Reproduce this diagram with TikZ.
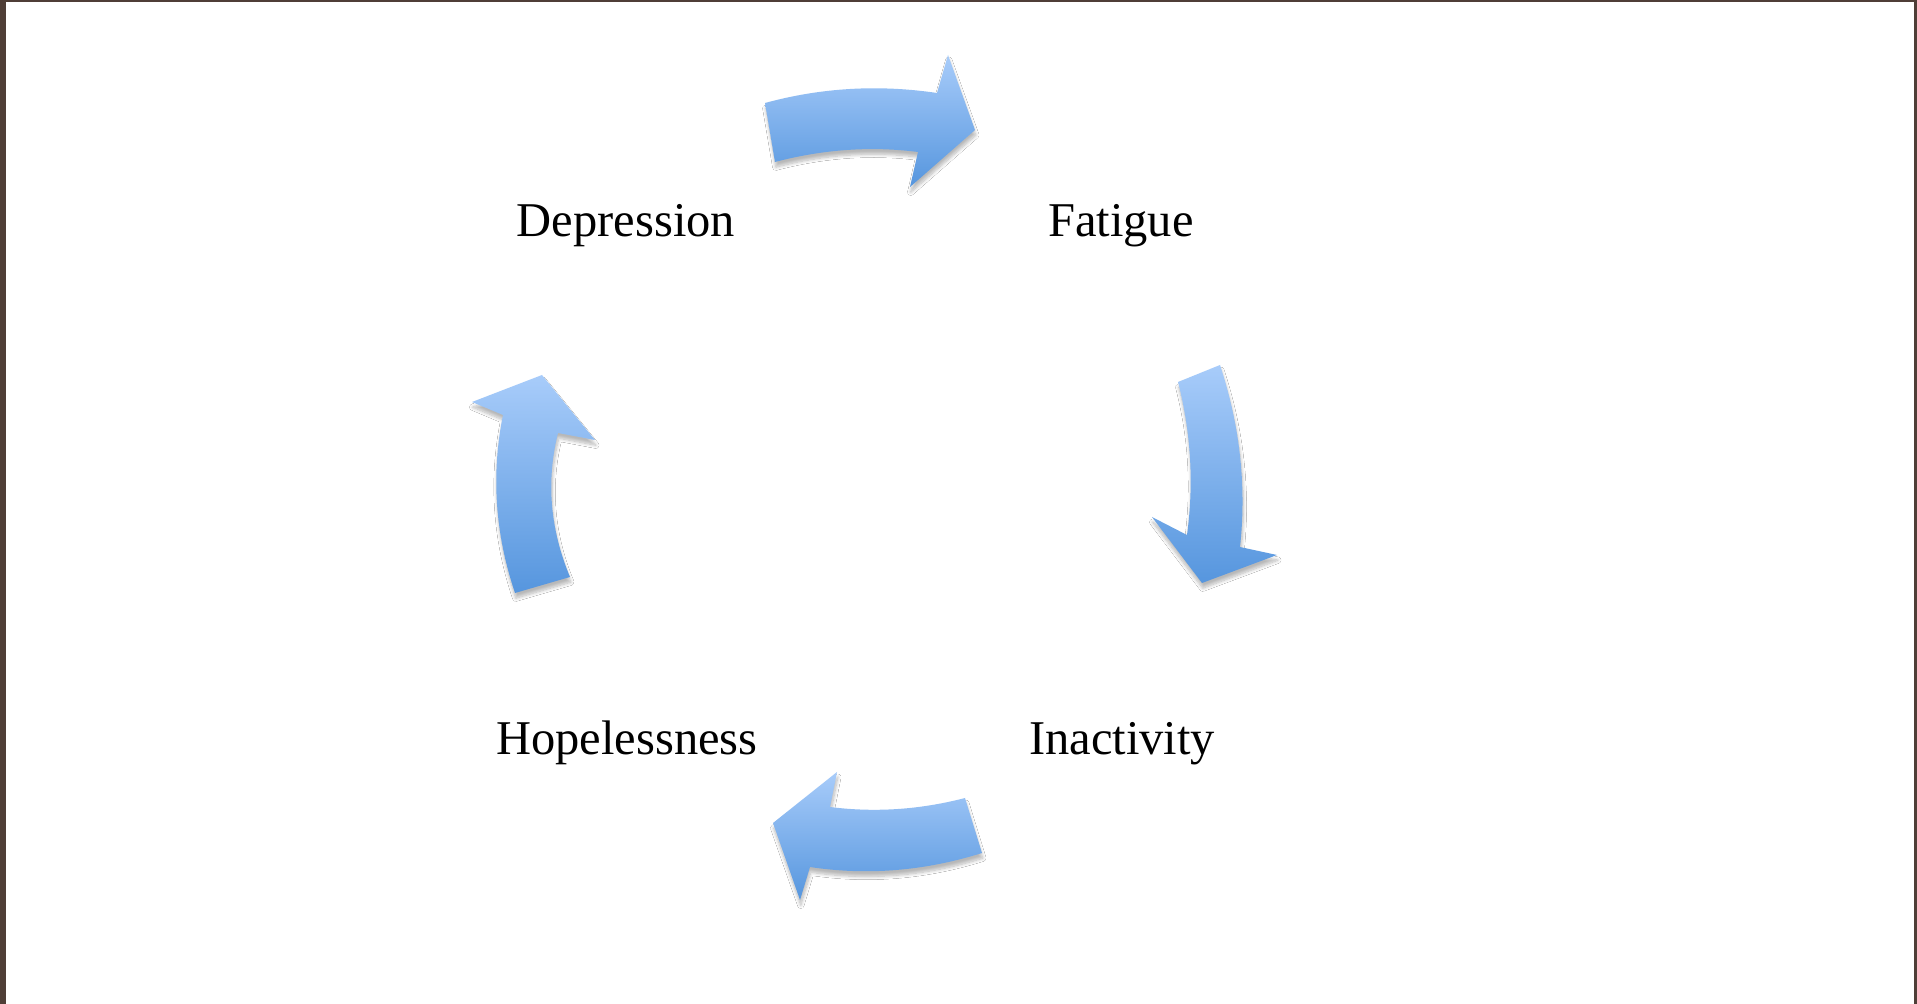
\documentclass[tikz,border=0pt]{standalone}
\usepackage{fontspec}
\setmainfont{Liberation Serif}
\usetikzlibrary{shadows.blur}
\definecolor{framebrown}{RGB}{79,62,55}
\definecolor{arrowlight}{RGB}{168,204,250}
\definecolor{arrowdark}{RGB}{86,150,222}
\tikzset{
  cyclearrow/.style={top color=arrowlight, bottom color=arrowdark, draw=none,
    blur shadow={shadow xshift=0.4pt, shadow yshift=-2.6pt, shadow blur radius=1.6pt,
      shadow blur steps=8, shadow opacity=28}},
  lbl/.style={anchor=base, inner sep=0pt, font=\fontsize{24.25}{29}\selectfont, text=black}
}
\begin{document}
\begin{tikzpicture}[x=0.5pt, y=-0.5pt]
\useasboundingbox (0,0) rectangle (1917,1004);
\fill[white] (0,0) rectangle (1917,1004);
% frame
\fill[framebrown] (0,0) rectangle (6,1004);
\fill[framebrown] (0,0) rectangle (1917,2);
\fill[framebrown] (1914,0) rectangle (1917,1004);

% labels
\node[lbl] (dep) at (626,237) {Depression};
\node[lbl] (fat) at (1121,237) {Fatigue};
\node[lbl] (ina) at (1122,755) {Inactivity};
\node[lbl] (hop) at (627,755) {Hopelessness};

% top arrow (Depression -> Fatigue)
\path[cyclearrow] (765,103) .. controls (821,87.7) and (878.3,84.3) .. (937,93)
  -- (948,55) -- (975,130) -- (910,187) -- (918,152)
  .. controls (871,146) and (823.3,149.3) .. (775,162) -- cycle;

% right arrow (Fatigue -> Inactivity)
\path[cyclearrow] (1220,365) -- (1178,382)
  .. controls (1191,432.7) and (1194,483.7) .. (1187,535)
  -- (1152,517) -- (1202,583) -- (1277,555) -- (1240,547)
  .. controls (1246.7,486.3) and (1240,425.7) .. (1220,365) -- cycle;

% bottom arrow (Inactivity -> Hopelessness)
\path[cyclearrow] (965,798) -- (982,853)
  .. controls (924.7,871) and (867.3,875.7) .. (810,867)
  -- (800,900) -- (773,823) -- (837,772) -- (830,807)
  .. controls (875,812.7) and (920,809.7) .. (965,798) -- cycle;

% left arrow (Hopelessness -> Depression)
\path[cyclearrow] (515,593) -- (570,577)
  .. controls (550,529) and (546,481) .. (558,433)
  -- (595,440) -- (542,375) -- (472,402) -- (503,415)
  .. controls (491,474.3) and (495,533.7) .. (515,593) -- cycle;
\end{tikzpicture}
\end{document}
